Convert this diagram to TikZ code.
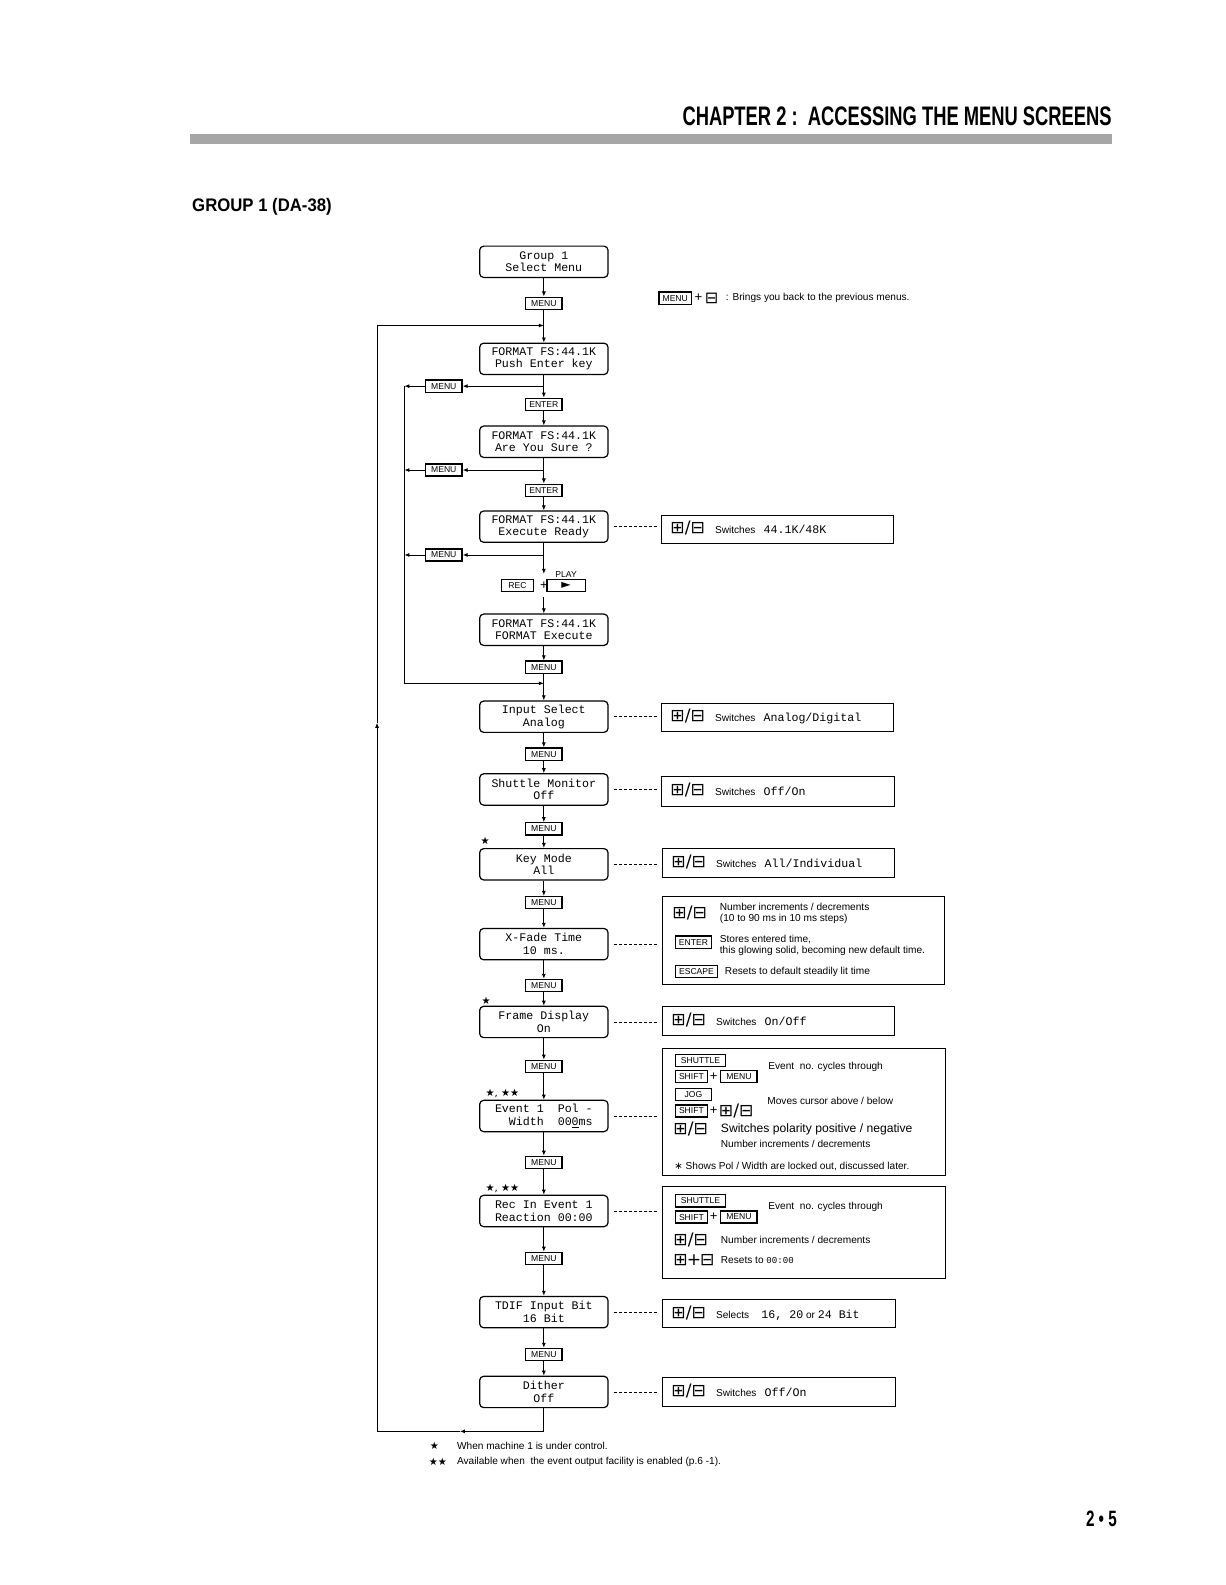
\documentclass[tikz,border=0pt]{standalone}
\usepackage{fontspec}
\setmainfont{Liberation Sans}
\setmonofont{Liberation Mono}
\newfontfamily\dejavu{DejaVu Sans}
\newfontfamily\condfont[FakeStretch=0.685]{Liberation Sans}
\usetikzlibrary{positioning, arrows.meta}

\newcommand{\scrfont}{\ttfamily\fontsize{11.5}{12.5}\selectfont}
\newcommand{\keyfont}{\rmfamily\fontsize{8.5}{8.5}\selectfont}
\newcommand{\txtfont}{\rmfamily\fontsize{10}{11}\selectfont}
\newcommand{\pmkeys}{{\dejavu\fontsize{17}{17}\selectfont ⊞/⊟}}
\newcommand{\mono}[1]{{\ttfamily\fontsize{11.5}{11.5}\selectfont #1}}

\tikzset{
  screen/.style={draw, rounded corners=4pt, line width=1.2pt, minimum width=127pt,
    minimum height=31pt, inner sep=0pt, align=center, font=\scrfont},
  keybox/.style={draw, line width=1.3pt, minimum width=36pt, minimum height=12pt,
    inner sep=0pt, font=\keyfont},
  infobox/.style={draw, line width=0.9pt, anchor=north west, inner sep=0pt},
  txt/.style={anchor=west, inner sep=0pt, align=left, font=\txtfont},
  flow/.style={line width=0.9pt, -{Latex[length=5pt, width=4pt]}},
  wire/.style={line width=0.9pt},
  link/.style={line width=0.8pt, dash pattern=on 3pt off 2pt, shorten <=5pt, shorten >=3pt},
  star/.style={inner sep=0pt, font=\dejavu\fontsize{10}{10}\selectfont},
}

\begin{document}
\begin{tikzpicture}[x=1pt, y=-1pt]
\useasboundingbox (0,0) rectangle (1212,1568);

% page header
\node[anchor=south east, inner sep=0pt, font=\condfont\bfseries\fontsize{26.5}{26.5}\selectfont]
  (chapter) at (1100,125) {CHAPTER 2 :\ \ ACCESSING THE MENU SCREENS};
\fill[black!35] (188,133) rectangle (1100,142);
\node[anchor=west, inner sep=0pt, font=\bfseries\fontsize{18}{18}\selectfont, xscale=0.92]
  (group) at (190,205) {GROUP 1 (DA-38)};

% main column
\node[screen] (g1) at (538,259) {Group 1\\Select Menu};
\node[keybox] (k1) at (538,300) {MENU};
\node[screen] (f1) at (538,355) {FORMAT FS:44.1K\\Push Enter key};
\node[keybox] (k2) at (538,400) {ENTER};
\node[screen] (f2) at (538,437) {FORMAT FS:44.1K\\Are You Sure ?};
\node[keybox] (k3) at (538,485) {ENTER};
\node[screen] (f3) at (538,521) {FORMAT FS:44.1K\\Execute Ready};
\node[keybox, minimum width=32pt] (rec) at (512,579) {REC};
\node[inner sep=0pt, minimum height=22pt, font=\txtfont\fontsize{13}{13}\selectfont] (plus) at (538,579) {+};
\node[keybox, minimum width=38pt, font=\dejavu\fontsize{12}{12}\selectfont] (play) at (560,579) {►};
\node[above=1pt of play, inner sep=0pt, font=\keyfont] (playlbl) {PLAY};
\node[screen] (f4) at (538,623) {FORMAT FS:44.1K\\FORMAT Execute};
\node[keybox] (k4) at (538,660) {MENU};
\node[screen] (s1) at (538,709) {Input Select\\Analog};
\node[keybox] (k5) at (538,746) {MENU};
\node[screen] (s2) at (538,781) {Shuttle Monitor\\Off};
\node[keybox] (k6) at (538,820) {MENU};
\node[screen] (s3) at (538,855) {Key Mode\\All};
\node[keybox] (k7) at (538,893) {MENU};
\node[screen] (s4) at (538,934) {X-Fade Time\\10 ms.};
\node[keybox] (k8) at (538,975) {MENU};
\node[screen] (s5) at (538,1011) {Frame Display\\On};
\node[keybox] (k9) at (538,1055) {MENU};
\node[screen] (s6) at (538,1104) {Event~1~~Pol~-\\~~Width~~00\underline{0}ms};
\node[keybox] (k10) at (538,1150) {MENU};
\node[screen] (s7) at (538,1198) {Rec In Event 1\\Reaction 00:00};
\node[keybox] (k11) at (538,1245) {MENU};
\node[screen] (s8) at (538,1298) {TDIF Input Bit\\16 Bit};
\node[keybox] (k12) at (538,1340) {MENU};
\node[screen] (s9) at (538,1377) {Dither\\Off};

% stars
\node[star] (st1) at (480,832) {★};
\node[star] (st2) at (481,990) {★};
\node[star] (st3) at (497,1082) {★, ★★};
\node[star] (st4) at (497,1176) {★, ★★};

% left MENU keys
\node[keybox] (m1) at (439,382) {MENU};
\node[keybox] (m2) at (439,465) {MENU};
\node[keybox] (m3) at (439,549) {MENU};

% vertical flow
\draw[flow] (g1) -- (k1);
\draw[flow] (k1) -- (f1);
\draw[flow] (f1) -- (k2);
\draw[flow] (k2) -- (f2);
\draw[flow] (f2) -- (k3);
\draw[flow] (k3) -- (f3);
\draw[flow] (f3) -- (plus);
\draw[flow] (plus) -- (f4);
\draw[flow] (f4) -- (k4);
\draw[flow] (k4) -- (s1);
\draw[flow] (s1) -- (k5);
\draw[flow] (k5) -- (s2);
\draw[flow] (s2) -- (k6);
\draw[flow] (k6) -- (s3);
\draw[flow] (s3) -- (k7);
\draw[flow] (k7) -- (s4);
\draw[flow] (s4) -- (k8);
\draw[flow] (k8) -- (s5);
\draw[flow] (s5) -- (k9);
\draw[flow] (k9) -- (s6);
\draw[flow] (s6) -- (k10);
\draw[flow] (k10) -- (s7);
\draw[flow] (s7) -- (k11);
\draw[flow] (k11) -- (s8);
\draw[flow] (s8) -- (k12);
\draw[flow] (k12) -- (s9);

% MENU returns
\coordinate (b1) at (538,382);
\coordinate (b2) at (538,465);
\coordinate (b3) at (538,549);
\coordinate (c1) at (400,382);
\coordinate (c2) at (400,465);
\coordinate (c3) at (400,549);
\coordinate (c4) at (400,676);
\coordinate (j2) at (538,676);
\draw[flow] (b1) -- (m1);
\draw[flow] (b2) -- (m2);
\draw[flow] (b3) -- (m3);
\draw[flow] (m1) -- (c1);
\draw[flow] (m2) -- (c2);
\draw[flow] (m3) -- (c3);
\draw[wire] (c1) -- (c4);
\draw[flow] (c4) -- (j2);

% outer loop
\coordinate (o1) at (538,1416);
\coordinate (o1a) at (455,1416);
\coordinate (o2) at (373,1416);
\coordinate (o2a) at (373,715);
\coordinate (o3) at (373,322);
\coordinate (j1) at (538,322);
\draw[flow] (s9) -- (o1) -- (o1a);
\draw[flow] (o1a) -- (o2) -- (o2a);
\draw[flow] (o2a) -- (o3) -- (j1);

% legend
\node[keybox, minimum width=32pt] (lg1) at (668,295) {MENU};
\node[inner sep=0pt, font=\txtfont\fontsize{13}{13}\selectfont] (lgp) at (691,295) {+};
\node[inner sep=0pt, font=\dejavu\fontsize{16}{16}\selectfont] (lg2) at (704,295) {⊟};
\node[txt] (lgt) at (718,295) {: Brings you back to the previous menus.};

% info boxes
\node[infobox, minimum width=229pt, minimum height=28pt] (i1) at (654,509) {};
\node[txt] (i1t) at (663,522) {\pmkeys\hspace{10pt}Switches\hspace{8pt}\mono{44.1K/48K}};
\node[infobox, minimum width=229pt, minimum height=28pt] (i2) at (654,695) {};
\node[txt] (i2t) at (663,709) {\pmkeys\hspace{10pt}Switches\hspace{8pt}\mono{Analog/Digital}};
\node[infobox, minimum width=230pt, minimum height=29pt] (i3) at (654,768) {};
\node[txt] (i3t) at (663,782) {\pmkeys\hspace{10pt}Switches\hspace{8pt}\mono{Off/On}};
\node[infobox, minimum width=229pt, minimum height=29pt] (i4) at (655,839) {};
\node[txt] (i4t) at (664,853) {\pmkeys\hspace{10pt}Switches\hspace{8pt}\mono{All/Individual}};

\node[infobox, minimum width=279pt, minimum height=87pt] (i5) at (655,886) {};
\node[txt] (i5a) at (665,903) {\pmkeys};
\node[txt] (i5b) at (712,904) {Number increments / decrements\\(10 to 90 ms in 10 ms steps)};
\node[keybox] (i5k) at (686,932) {ENTER};
\node[txt] (i5c) at (712,935) {Stores entered time,\\this glowing solid, becoming new default time.};
\node[keybox, minimum width=42pt] (i5e) at (689,961) {ESCAPE};
\node[txt] (i5d) at (717,961) {Resets to default steadily lit time};

\node[infobox, minimum width=229pt, minimum height=29pt] (i6) at (655,995) {};
\node[txt] (i6t) at (664,1009) {\pmkeys\hspace{10pt}Switches\hspace{8pt}\mono{On/Off}};

\node[infobox, minimum width=280pt, minimum height=125pt] (i7) at (655,1037) {};
\node[keybox, minimum width=50pt] (i7k1) at (693,1049) {SHUTTLE};
\node[keybox, minimum width=32pt] (i7k2) at (684,1065) {SHIFT};
\node[inner sep=0pt, font=\txtfont\fontsize{13}{13}\selectfont] (i7p1) at (706,1065) {+};
\node[keybox] (i7k3) at (731,1065) {MENU};
\node[txt] (i7a) at (760,1055) {Event\ \ no. cycles through};
\node[keybox] (i7k4) at (686,1083) {JOG};
\node[keybox, minimum width=32pt] (i7k5) at (684,1099) {SHIFT};
\node[inner sep=0pt, font=\txtfont\fontsize{13}{13}\selectfont] (i7p2) at (706,1099) {+};
\node[txt] (i7pm) at (711,1099) {\pmkeys};
\node[txt] (i7b) at (759,1089) {Moves cursor above / below};
\node[txt] (i7pm2) at (666,1117) {\pmkeys};
\node[txt, font=\rmfamily\fontsize{12}{12}\selectfont] (i7c) at (713,1117) {Switches polarity positive / negative};
\node[txt] (i7d) at (713,1132) {Number increments / decrements};
\node[txt] (i7e) at (667,1154) {{\dejavu ∗}\ Shows Pol / Width are locked out, discussed later.};

\node[infobox, minimum width=280pt, minimum height=91pt] (i8) at (655,1173) {};
\node[keybox, minimum width=50pt] (i8k1) at (693,1188) {SHUTTLE};
\node[keybox, minimum width=32pt] (i8k2) at (684,1204) {SHIFT};
\node[inner sep=0pt, font=\txtfont\fontsize{13}{13}\selectfont] (i8p) at (706,1204) {+};
\node[keybox] (i8k3) at (731,1204) {MENU};
\node[txt] (i8a) at (760,1194) {Event\ \ no. cycles through};
\node[txt] (i8pm) at (666,1227) {\pmkeys};
\node[txt] (i8b) at (713,1227) {Number increments / decrements};
\node[txt] (i8pm2) at (666,1247) {{\dejavu\fontsize{17}{17}\selectfont ⊞\kern-1pt+\kern-1pt⊟}};
\node[txt] (i8c) at (713,1247) {Resets to {\ttfamily\fontsize{9}{9}\selectfont 00:00}};

\node[infobox, minimum width=230pt, minimum height=28pt] (i9) at (655,1285) {};
\node[txt] (i9t) at (664,1299) {\pmkeys\hspace{10pt}Selects\hspace{12pt}\mono{16, 20} or \mono{24 Bit}};
\node[infobox, minimum width=230pt, minimum height=29pt] (i10) at (655,1362) {};
\node[txt] (i10t) at (664,1376) {\pmkeys\hspace{10pt}Switches\hspace{8pt}\mono{Off/On}};

% dashed links
\draw[link] (f3.east) -- (f3.east -| i1.west);
\draw[link] (s1.east) -- (s1.east -| i2.west);
\draw[link] (s2.east) -- (s2.east -| i3.west);
\draw[link] (s3.east) -- (s3.east -| i4.west);
\draw[link] (s4.east) -- (s4.east -| i5.west);
\draw[link] (s5.east) -- (s5.east -| i6.west);
\draw[link] (s6.east) -- (s6.east -| i7.west);
\draw[link] (s7.east) -- (s7.east -| i8.west);
\draw[link] (s8.east) -- (s8.east -| i9.west);
\draw[link] (s9.east) -- (s9.east -| i10.west);

% footnotes
\node[star, anchor=west] (fn1s) at (425,1430) {★};
\node[txt] (fn1) at (452,1430) {When machine 1 is under control.};
\node[star, anchor=west] (fn2s) at (424,1446) {★★};
\node[txt] (fn2) at (452,1446) {Available when\ \ the event output facility is enabled (p.6 -1).};

% page number
\node[anchor=east, inner sep=0pt, font=\condfont\bfseries\fontsize{22}{22}\selectfont]
  (pageno) at (1105,1503) {2 • 5};
\end{tikzpicture}
\end{document}
